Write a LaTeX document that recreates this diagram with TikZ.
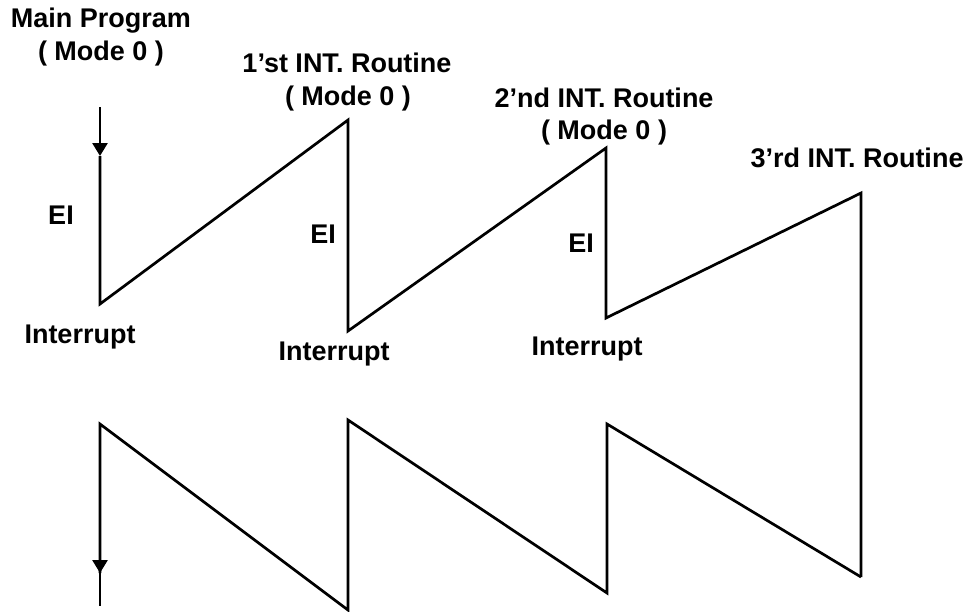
\documentclass[tikz,border=0pt]{standalone}
\usepackage{fontspec}
\setmainfont{Liberation Sans}
\usetikzlibrary{arrows.meta}
\tikzset{
  wire/.style={line width=2.7pt, line join=miter, draw=black},
  tip/.style={wire, -{Triangle[length=13pt,width=15pt]}},
  lbl/.style={font=\fontsize{27}{32}\selectfont\bfseries, anchor=base, inner sep=0pt, text=black}
}
\begin{document}
\begin{tikzpicture}[x=1pt,y=-1pt]
\useasboundingbox (0,0) rectangle (973,611);
% vertices of upper chain
\coordinate (m0) at (100,107);
\coordinate (mt) at (100,156);
\coordinate (m1) at (100,304);
\coordinate (a) at (348,120);
\coordinate (b) at (348,331);
\coordinate (c) at (606,148);
\coordinate (d) at (606,318);
\coordinate (e) at (861,193);
\coordinate (f) at (861,577);
% vertices of lower chain
\coordinate (h) at (100,424);
\coordinate (ht) at (100,573);
\coordinate (g) at (100,606);
\coordinate (i) at (348,610);
\coordinate (j) at (348,420);
\coordinate (k) at (607,593);
\coordinate (l) at (607,424);
% upper chain
\draw[tip] (m0) -- (mt);
\draw[wire] (mt) -- (m1) -- (a) -- (b) -- (c) -- (d) -- (e) -- (f);
% lower chain
\draw[wire] (f) -- (l) -- (k) -- (j) -- (i) -- (h) -- (ht);
\draw[tip] (h) -- (ht);
\draw[wire] (ht) -- (g);
% labels
\node[lbl] (t0a) at (101,27) {Main Program};
\node[lbl] (t0b) at (101,60) {( Mode 0 )};
\node[lbl] (t1a) at (347,72) {1’st INT. Routine};
\node[lbl] (t1b) at (348,105) {( Mode 0 )};
\node[lbl] (t2a) at (604,107) {2’nd INT. Routine};
\node[lbl] (t2b) at (604,139) {( Mode 0 )};
\node[lbl] (t3a) at (857,167) {3’rd INT. Routine};
\node[lbl] (ei1) at (61,224) {EI};
\node[lbl] (ei2) at (323,243) {EI};
\node[lbl] (ei3) at (581,252) {EI};
\node[lbl] (in1) at (80,343) {Interrupt};
\node[lbl] (in2) at (334,360) {Interrupt};
\node[lbl] (in3) at (587,355) {Interrupt};
\end{tikzpicture}
\end{document}
